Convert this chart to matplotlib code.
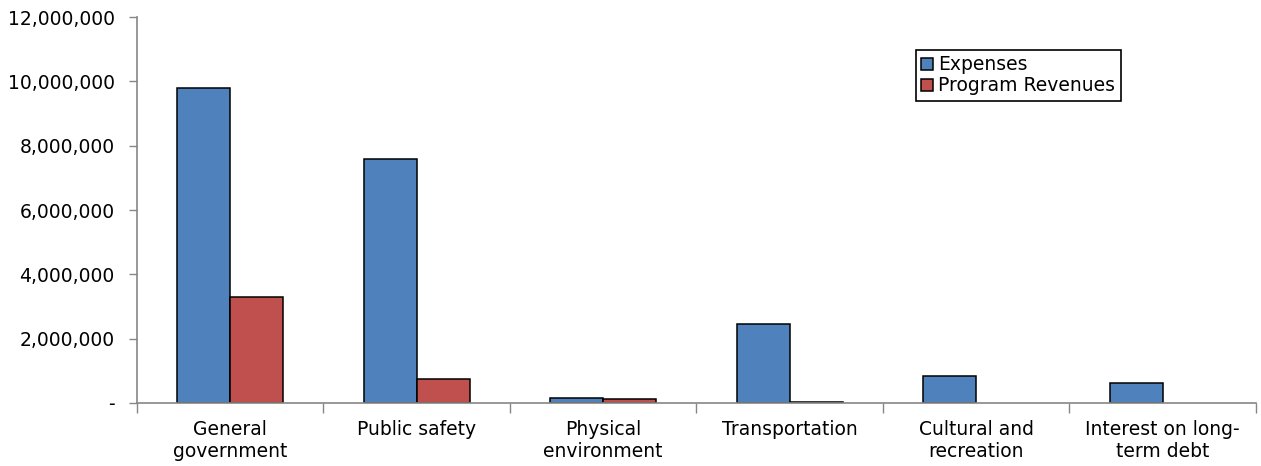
import matplotlib.pyplot as plt
import matplotlib.ticker as mticker
import numpy as np

plt.rcParams['font.family'] = ['DejaVu Sans']

categories = ["General\ngovernment", "Public safety", "Physical\nenvironment",
              "Transportation", "Cultural and\nrecreation", "Interest on long-\nterm debt"]
expenses = [9800000, 7590000, 145000, 2470000, 840000, 610000]
program_revenues = [3300000, 740000, 110000, 25000, 0, 0]

blue = "#4F81BD"
red = "#C0504D"
grey = "#868686"
fs = 13.5

fig = plt.figure(figsize=(12.61, 4.66), dpi=100)
ax = fig.add_axes([0.1086, 0.1352, 0.8874, 0.8283])

x = np.arange(len(categories))
w = 0.285
# zero values get no outline so nothing shows on the axis
ax.bar(x - w / 2, expenses, w, color=blue, edgecolor="black",
       linewidth=[1.1 if v > 0 else 0 for v in expenses], label="Expenses")
ax.bar(x + w / 2, program_revenues, w, color=red, edgecolor="black",
       linewidth=[1.1 if v > 0 else 0 for v in program_revenues], label="Program Revenues")

ax.set_xlim(-0.5, len(categories) - 0.5)
ax.set_ylim(0, 12000000)
ax.yaxis.set_major_locator(mticker.MultipleLocator(2000000))
ax.yaxis.set_major_formatter(mticker.FuncFormatter(
    lambda v, p: "-" if v == 0 else f"{v:,.0f}"))

# category labels centred, tick marks on the boundaries
ax.set_xticks(x)
ax.set_xticklabels(categories, fontsize=fs, linespacing=1.2)
ax.tick_params(axis="x", length=0, pad=12)
ax.set_xticks(np.arange(-0.5, len(categories)), minor=True)
ax.tick_params(axis="x", which="minor", length=7, color=grey, width=1)
ax.tick_params(axis="y", length=6, color=grey, width=1, labelsize=fs, pad=10)

for s in ["top", "right"]:
    ax.spines[s].set_visible(False)
for s in ["left", "bottom"]:
    ax.spines[s].set_color(grey)
    ax.spines[s].set_linewidth(1.2)

leg = ax.legend(loc="upper left", bbox_to_anchor=(0.696, 0.915), fontsize=fs,
                fancybox=False, edgecolor="black", framealpha=1,
                handlelength=0.6, handleheight=0.6, handletextpad=0.3,
                borderpad=0.3, labelspacing=0.1, borderaxespad=0)
leg.get_frame().set_linewidth(1.2)

fig.savefig("out.png", dpi=100)
